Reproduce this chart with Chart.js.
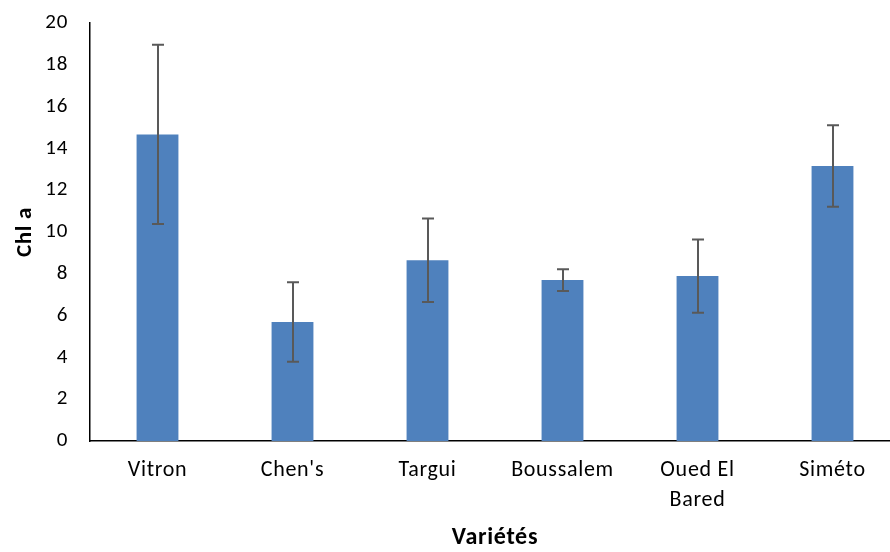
<!DOCTYPE html>
<html>
<head>
<meta charset="utf-8">
<script src="https://cdn.jsdelivr.net/npm/chart.js@4"></script>
<style>
html,body{margin:0;padding:0;overflow:hidden;background:#fff;}
#wrap{width:901px;height:552px;}
</style>
</head>
<body>
<div id="wrap"><canvas id="c" width="901" height="552"></canvas></div>
<script>
const categories = ['Vitron', "Chen's", 'Targui', 'Boussalem', ['Oued El', 'Bared'], 'Siméto'];
const chlA = [14.67, 5.69, 8.65, 7.70, 7.89, 13.16];
const chlAErr = [4.29, 1.9, 2.0, 0.52, 1.75, 1.95];
const yTicks = [0, 2, 4, 6, 8, 10, 12, 14, 16, 18, 20];

const FONT = 'Carlito, Lato, sans-serif';

const spacing = {
  id: 'spacing',
  beforeUpdate(chart) { chart.ctx.letterSpacing = '0.7px'; },
  beforeDraw(chart) { chart.ctx.letterSpacing = '0.7px'; }
};

const errorBars = {
  id: 'errorBars',
  afterDatasetsDraw(chart) {
    const ctx = chart.ctx;
    const y = chart.scales.y;
    const meta = chart.getDatasetMeta(0);
    ctx.save();
    ctx.strokeStyle = '#595959';
    ctx.lineWidth = 2;
    meta.data.forEach((bar, i) => {
      const x = Math.round(bar.x);
      const top = y.getPixelForValue(chlA[i] + chlAErr[i]);
      const bot = y.getPixelForValue(chlA[i] - chlAErr[i]);
      ctx.beginPath();
      ctx.moveTo(x, top); ctx.lineTo(x, bot);
      ctx.moveTo(x - 6, top); ctx.lineTo(x + 6, top);
      ctx.moveTo(x - 6, bot); ctx.lineTo(x + 6, bot);
      ctx.stroke();
    });
    ctx.restore();
  }
};

new Chart(document.getElementById('c'), {
  type: 'bar',
  data: {
    labels: categories,
    datasets: [{
      data: chlA,
      backgroundColor: '#4F81BD',
      borderWidth: 0,
      barPercentage: 0.31,
      categoryPercentage: 1.0
    }]
  },
  options: {
    responsive: false,
    animation: false,
    events: [],
    layout: { padding: { top: 23, right: 1, left: 11, bottom: 0 } },
    plugins: { legend: { display: false }, tooltip: { enabled: false } },
    scales: {
      x: {
        grid: { display: false, drawTicks: false },
        border: { display: true, color: '#000', width: 1.5 },
        ticks: { color: '#000', font: { family: FONT, size: 22, lineHeight: 1.35 }, padding: 15, maxRotation: 0, autoSkip: false },
        title: { display: true, text: 'Variétés', color: '#000', font: { family: FONT, size: 24, weight: 'bold' }, padding: { top: 10, bottom: 0 } },
        afterFit(s) { s.height = 111; }
      },
      y: {
        min: 0, max: 20,
        afterBuildTicks(s) { s.ticks = yTicks.map(v => ({ value: v })); },
        grid: { display: false, drawTicks: false },
        border: { display: true, color: '#000', width: 1.5 },
        ticks: { color: '#000', font: { family: FONT, size: 21 }, padding: 22 },
        title: { display: true, text: 'Chl a', color: '#000', font: { family: FONT, size: 23, weight: 'bold' }, padding: { top: 0, bottom: 0 } },
        afterFit(s) { s.width = 79; s.paddingTop = 0; s.paddingBottom = 0; }
      }
    }
  },
  plugins: [spacing, errorBars]
});
</script>
</body>
</html>
